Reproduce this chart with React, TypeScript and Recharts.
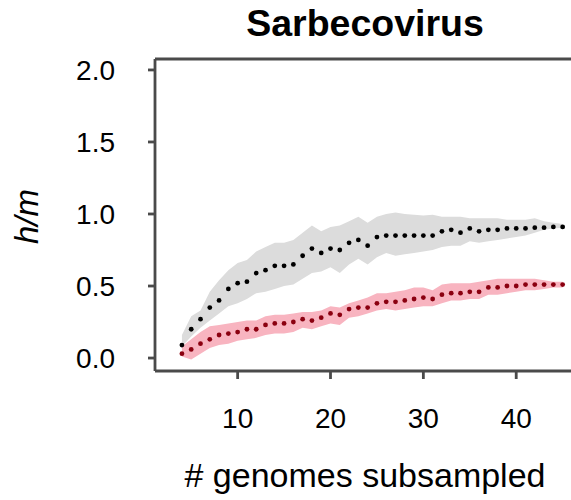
import React from 'react';
import {
    ComposedChart,
    Area,
    Scatter,
    XAxis,
    YAxis,
    ReferenceLine
} from 'recharts';

const genomes = [4, 5, 6, 7, 8, 9, 10, 11, 12, 13, 14, 15, 16, 17, 18, 19, 20, 21, 22, 23, 24,
    25, 26, 27, 28, 29, 30, 31, 32, 33, 34, 35, 36, 37, 38, 39, 40, 41, 42, 43, 44, 45];

const grayMean = [0.09, 0.20, 0.27, 0.35, 0.40, 0.48, 0.52, 0.53, 0.59, 0.61, 0.64, 0.64, 0.65, 0.71,
    0.76, 0.73, 0.76, 0.75, 0.80, 0.82, 0.78, 0.84, 0.85, 0.85, 0.85, 0.85, 0.85, 0.85, 0.88, 0.89,
    0.87, 0.90, 0.88, 0.89, 0.89, 0.90, 0.90, 0.90, 0.905, 0.905, 0.91, 0.91];
const grayHigh = [0.16, 0.29, 0.33, 0.46, 0.54, 0.61, 0.66, 0.68, 0.74, 0.77, 0.80, 0.80, 0.82, 0.87,
    0.92, 0.88, 0.91, 0.92, 0.95, 0.98, 0.94, 0.98, 1.00, 1.01, 1.00, 0.995, 0.99, 0.995, 0.98, 0.98,
    0.98, 0.97, 0.97, 0.97, 0.97, 0.96, 0.96, 0.96, 0.97, 0.95, 0.94, 0.93];
const grayLow = [0.08, 0.15, 0.21, 0.26, 0.31, 0.36, 0.38, 0.41, 0.45, 0.46, 0.48, 0.50, 0.51, 0.55,
    0.59, 0.60, 0.63, 0.59, 0.65, 0.69, 0.65, 0.70, 0.73, 0.71, 0.72, 0.73, 0.74, 0.75, 0.77, 0.78,
    0.78, 0.81, 0.80, 0.81, 0.82, 0.83, 0.84, 0.85, 0.87, 0.89, 0.90, 0.905];

const redMean = [0.03, 0.06, 0.10, 0.13, 0.16, 0.17, 0.18, 0.20, 0.20, 0.23, 0.24, 0.24, 0.25, 0.27,
    0.26, 0.28, 0.31, 0.30, 0.34, 0.35, 0.35, 0.38, 0.39, 0.39, 0.40, 0.41, 0.42, 0.41, 0.44, 0.45,
    0.45, 0.46, 0.46, 0.49, 0.49, 0.50, 0.50, 0.51, 0.51, 0.51, 0.51, 0.51];
const redHigh = [0.08, 0.13, 0.18, 0.22, 0.23, 0.24, 0.25, 0.26, 0.26, 0.29, 0.30, 0.30, 0.31, 0.32,
    0.32, 0.33, 0.36, 0.35, 0.38, 0.40, 0.42, 0.45, 0.45, 0.46, 0.47, 0.49, 0.49, 0.47, 0.51, 0.52,
    0.52, 0.52, 0.53, 0.54, 0.55, 0.55, 0.55, 0.55, 0.55, 0.54, 0.53, 0.53];
const redLow = [0.01, -0.01, 0.03, 0.07, 0.09, 0.10, 0.12, 0.13, 0.14, 0.16, 0.17, 0.17, 0.18, 0.21,
    0.20, 0.22, 0.24, 0.23, 0.28, 0.29, 0.31, 0.33, 0.34, 0.33, 0.34, 0.35, 0.36, 0.36, 0.38, 0.40,
    0.40, 0.41, 0.41, 0.44, 0.44, 0.45, 0.46, 0.47, 0.47, 0.48, 0.49, 0.49];

const xTicks = [10, 20, 30, 40];
const yTicks = [0, 0.5, 1.0, 1.5, 2.0];

const data = genomes.map((n, i) => ({
    n,
    grayMean: grayMean[i],
    grayBand: [grayLow[i], grayHigh[i]],
    redMean: redMean[i],
    redBand: [redLow[i], redHigh[i]]
}));

const FONT = '"Liberation Sans", Arial, sans-serif';
const AXIS = '#4a4a4a';
const Y_TOP = 2.076;

const dot = (color: string) => (props: any) => (
    <circle cx={props.cx} cy={props.cy} r={2.4} fill={color} />
);

const App: React.FC = () => {
    return (
        <div style={{ position: 'absolute', left: 0, top: 0, width: 571, height: 500, fontFamily: FONT, background: '#fff' }}>
            <div style={{ position: 'absolute', left: 165, top: 5, width: 400, textAlign: 'center', fontSize: 37.5, lineHeight: '37.5px', fontWeight: 'bold' }}>
                Sarbecovirus
            </div>
            <ComposedChart
                width={571}
                height={500}
                data={data}
                margin={{ top: 59, right: 0, left: 0, bottom: 0 }}
            >
                <XAxis
                    dataKey="n"
                    type="number"
                    domain={[1.1, 45.9]}
                    ticks={xTicks}
                    height={129}
                    allowDataOverflow
                    stroke={AXIS}
                    strokeWidth={2.8}
                    tickSize={8}
                    tickMargin={29}
                    tick={{ fill: '#000', fontSize: 28, fontFamily: FONT }}
                />
                <YAxis
                    type="number"
                    domain={[-0.09, Y_TOP]}
                    ticks={yTicks}
                    width={155}
                    allowDataOverflow
                    stroke={AXIS}
                    strokeWidth={2.8}
                    tickSize={7}
                    tickMargin={33}
                    tickFormatter={(v: number) => v.toFixed(1)}
                    tick={{ fill: '#000', fontSize: 28, fontFamily: FONT }}
                />
                <ReferenceLine y={Y_TOP} stroke={AXIS} strokeWidth={2.8} ifOverflow="extendDomain" />
                <Area
                    type="linear"
                    dataKey="grayBand"
                    stroke="none"
                    fill="#dcdcdc"
                    fillOpacity={1}
                    isAnimationActive={false}
                />
                <Area
                    type="linear"
                    dataKey="redBand"
                    stroke="none"
                    fill="#f8b4c0"
                    fillOpacity={1}
                    isAnimationActive={false}
                />
                <Scatter dataKey="grayMean" fill="#000" shape={dot('#000000')} isAnimationActive={false} />
                <Scatter dataKey="redMean" fill="#8b0010" shape={dot('#8b0010')} isAnimationActive={false} />
            </ComposedChart>
            <div style={{ position: 'absolute', left: 165, top: 458, width: 400, textAlign: 'center', fontSize: 34, lineHeight: '34px' }}>
                # genomes subsampled
            </div>
            <div style={{ position: 'absolute', left: 25.6 - 50, top: 216 - 16.5, width: 100, height: 33, textAlign: 'center', fontSize: 33, lineHeight: '33px', fontStyle: 'italic', transform: 'rotate(-90deg)' }}>
                h/m
            </div>
        </div>
    );
};

export default App;
